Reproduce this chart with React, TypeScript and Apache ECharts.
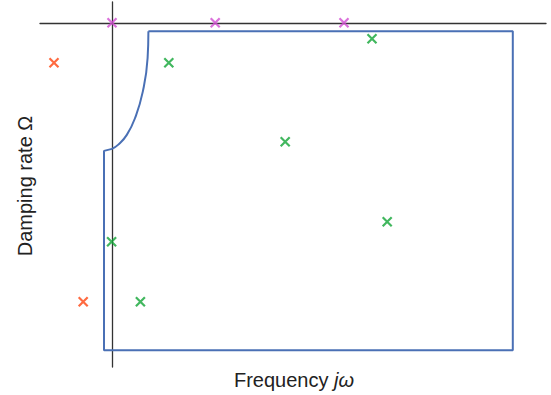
import React, { useEffect, useRef } from "react";
import * as echarts from "echarts";

// Data coordinates: origin where the two axes cross; units of the drawing.
const redPoints: [number, number][] = [
  [-1.45, -1.0],
  [-0.72, -6.97],
];
const greenPoints: [number, number][] = [
  [1.42, -1.0],
  [6.5, -0.4],
  [4.33, -2.97],
  [6.88, -4.97],
  [-0.01, -5.47],
  [0.71, -6.97],
];
const purplePoints: [number, number][] = [
  [0.0, 0.0],
  [2.58, 0.0],
  [5.8, 0.0],
];
// boundary polygon (straight parts)
const boundaryPoints: [number, number][] = [
  [0.0, -3.15],
  [-0.2, -3.2],
  [-0.2, -8.18],
  [10.02, -8.18],
  [10.02, -0.21],
  [0.91, -0.21],
];
// curved part of the boundary
const curvePoints: [number, number][] = [
  [0.91, -0.21],
  [0.89, -0.88],
  [0.77, -1.72],
  [0.58, -2.37],
  [0.37, -2.8],
  [0.15, -3.05],
  [0.0, -3.15],
];

const xLabel = "Frequency ";
const xLabelItalic = "jω";
const yLabel = "Damping rate Ω";

const crossSymbol = "path://M0,0L10,10M10,0L0,10";

export default function App() {
  const ref = useRef<HTMLDivElement>(null);
  useEffect(() => {
    if (!ref.current) return;
    const chart = echarts.init(ref.current, undefined, { renderer: "svg" });
    const mk = (data: [number, number][], color: string) => ({
      type: "scatter",
      data,
      symbol: crossSymbol,
      symbolSize: 9,
      itemStyle: { color: "rgba(0,0,0,0)", borderColor: color, borderWidth: 2.2 },
      z: 5,
    });
    const font = "Liberation Sans, Arial, sans-serif";
    chart.setOption({
      animation: false,
      backgroundColor: "#ffffff",
      grid: { left: 40, right: 5, top: 2, bottom: 28 },
      xAxis: {
        type: "value",
        min: -1.8,
        max: 10.85,
        axisLine: { show: true, onZero: true, lineStyle: { color: "#333333", width: 1.3 } },
        axisTick: { show: false },
        axisLabel: { show: false },
        splitLine: { show: false },
      },
      yAxis: {
        type: "value",
        min: -8.6,
        max: 0.52,
        axisLine: { show: true, onZero: true, lineStyle: { color: "#333333", width: 1.3 } },
        axisTick: { show: false },
        axisLabel: { show: false },
        splitLine: { show: false },
      },
      graphic: [
        {
          type: "text",
          x: 294,
          y: 380,
          style: {
            text: `{a|${xLabel}}{b|${xLabelItalic}}`,
            align: "center",
            verticalAlign: "middle",
            fill: "#222222",
            rich: {
              a: { fontFamily: font, fontSize: 20, fill: "#222222" },
              b: { fontFamily: font, fontSize: 20, fontStyle: "italic", fill: "#222222" },
            },
          },
        },
        {
          type: "text",
          x: 25,
          y: 186,
          rotation: Math.PI / 2,
          style: {
            text: yLabel,
            align: "center",
            verticalAlign: "middle",
            fontFamily: font,
            fontSize: 20,
            fill: "#222222",
          },
        },
      ],
      series: [
        {
          type: "line",
          data: boundaryPoints,
          showSymbol: false,
          symbol: "none",
          lineStyle: { color: "#4a70b5", width: 2 },
          z: 3,
        },
        {
          type: "line",
          data: curvePoints,
          smooth: true,
          showSymbol: false,
          symbol: "none",
          lineStyle: { color: "#4a70b5", width: 2 },
          z: 3,
        },
        mk(redPoints, "#ff4510"),
        mk(greenPoints, "#12a536"),
        mk(purplePoints, "#d24ed2"),
      ],
    });
    return () => chart.dispose();
  }, []);
  return (
    <div
      ref={ref}
      style={{ position: "absolute", left: 0, top: 0, width: 551, height: 395 }}
    />
  );
}
